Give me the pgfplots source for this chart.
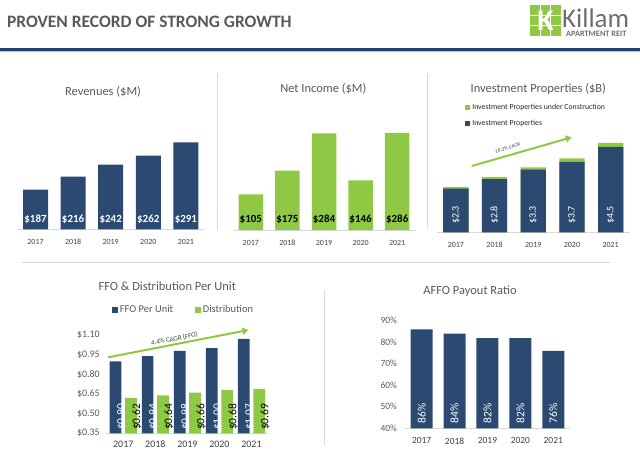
\documentclass[border=0pt]{standalone}
\usepackage{fontspec}
\setmainfont{Carlito}
\usepackage{pgfplots}
\pgfplotsset{compat=1.18}
\usetikzlibrary{arrows.meta}

\definecolor{Navy}{HTML}{2C4A71}
\definecolor{KGreen}{HTML}{8FC944}
\definecolor{TitleGray}{HTML}{595959}
\definecolor{LabelGray}{HTML}{404040}
\definecolor{RuleGray}{HTML}{D9D9D9}
\definecolor{HeadNavy}{HTML}{23406B}
\definecolor{HeadLight}{HTML}{B4C6DA}
\definecolor{LogoGray}{HTML}{6D6E71}

\newcommand{\fs}[1]{\fontsize{#1}{#1}\selectfont}

\pgfkeys{/pgf/number format/assume math mode=true}
\pgfplotsset{
  panel/.style={scale only axis, anchor=south west, ybar,
    axis x line=bottom, axis line style={-},
    x axis line style={draw=RuleGray, line width=0.8bp},
    xtick={0,...,4}, xticklabels={2017,2018,2019,2020,2021},
    major tick length=0pt, tick style={draw=none},
    xticklabel style={text=LabelGray}},
  toppanel/.style={panel, hide y axis, xmin=-0.5, xmax=4.5,
    xticklabel style={font=\fs{8}, yshift=-6.5bp}},
  % value labels, drawn at a fixed height inside the bars
  lblplot/.style={sharp plot, draw=none, mark=none, nodes near coords,
    point meta=explicit symbolic, every node near coord/.append style={anchor=center}},
  sqlegend/.style={legend image code/.code={\path[##1] (0bp,-#1) rectangle (2*#1,#1);}},
}

\begin{document}
\begin{tikzpicture}
\path[use as bounding box] (0,0) rectangle (640bp,-463bp);

% header
\node[anchor=west, font=\bfseries\fs{17.5}, text=TitleGray, inner sep=0]
  at (7bp,-22bp) {PROVEN RECORD OF STRONG GROWTH};
\fill[HeadNavy] (0,-48.3bp) rectangle (640bp,-50.7bp);
\fill[HeadLight] (0,-50.7bp) rectangle (640bp,-52bp);

% logo
\fill[KGreen] (530bp,-5bp) rectangle (561bp,-36bp);
\draw[white, line width=1.2bp] (540.3bp,-5bp) -- (540.3bp,-36bp)
  (550.7bp,-5bp) -- (550.7bp,-36bp) (530bp,-15.3bp) -- (561bp,-15.3bp)
  (530bp,-25.7bp) -- (561bp,-25.7bp);
\node[text=white, font=\bfseries\fs{30}, inner sep=0] at (545.5bp,-21bp) {K};
\node[anchor=base west, font=\fs{27}, text=LogoGray, inner sep=0]
  at (562bp,-27bp) {Killam};
\node[anchor=base west, font=\bfseries\fs{8.3}, text=LogoGray, inner sep=0]
  at (566bp,-36.5bp) {APARTMENT REIT};

% separators
\draw[RuleGray, line width=0.8bp] (217bp,-73bp) -- (217bp,-230bp)
  (427bp,-73bp) -- (427bp,-228bp) (22bp,-262bp) -- (610bp,-262bp)
  (324bp,-290bp) -- (324bp,-445bp);

% titles
\node[font=\fs{12.5}, text=TitleGray] at (103bp,-91.7bp) {Revenues (\$M)};
\node[font=\fs{12.5}, text=TitleGray] at (323.3bp,-89.3bp) {Net Income (\$M)};
\node[font=\fs{12.5}, text=TitleGray] at (538.3bp,-89.3bp) {Investment Properties (\$B)};
\node[font=\fs{12.5}, text=TitleGray] at (167.3bp,-286.7bp) {FFO \& Distribution Per Unit};
\node[font=\fs{12.5}, text=TitleGray] at (470bp,-290.7bp) {AFFO Payout Ratio};

% Revenues
\begin{axis}[toppanel, at={(16.7bp,-229.3bp)}, x=37.6bp, y=0.455bp, ymin=100, ymax=300]
\addplot[fill=Navy, draw=none, bar width=25bp]
  coordinates {(0,187) (1,216) (2,242) (3,262) (4,291)};
\addplot[lblplot, nodes near coords style={font=\bfseries\fs{11}, text=white}]
  coordinates {(0,122) [\$187] (1,122) [\$216] (2,122) [\$242] (3,122) [\$262] (4,122) [\$291]};
\end{axis}

% Net income
\begin{axis}[toppanel, at={(232.5bp,-230bp)}, x=36.6bp, y=0.34bp, ymin=0, ymax=300]
\addplot[fill=KGreen, draw=none, bar width=24.5bp]
  coordinates {(0,105) (1,175) (2,284) (3,146) (4,286)};
\addplot[lblplot, nodes near coords style={font=\bfseries\fs{11}, text=black}]
  coordinates {(0,31.5) [\$105] (1,31.5) [\$175] (2,31.5) [\$284] (3,31.5) [\$146] (4,31.5) [\$286]};
\end{axis}

% Investment properties: green = total incl. construction, navy drawn over it
\begin{axis}[toppanel, at={(436.5bp,-232.3bp)}, x=38.7bp, y=19bp,
  ymin=0, ymax=5, legend cell align=left, sqlegend=2.5bp,
  legend style={draw=none, fill=none, font=\fs{7.8}, text=black!85,
    at={(axis description cs:0.148,1.233)}, anchor=west, row sep=5bp, inner sep=0pt}]
\addplot[fill=KGreen, draw=none, bar width=25.3bp, bar shift=0pt]
  coordinates {(0,2.38) (1,2.91) (2,3.42) (3,3.89) (4,4.70)};
\addlegendentry{Investment Properties under Construction}
\addplot[fill=Navy, draw=none, bar width=25.3bp, bar shift=0pt]
  coordinates {(0,2.3) (1,2.8) (2,3.3) (3,3.7) (4,4.5)};
\addlegendentry{Investment Properties}
\addplot[lblplot, nodes near coords style={font=\fs{10}, text=white, rotate=90}]
  coordinates {(0,0.91) [\$2.3] (1,0.91) [\$2.8] (2,0.91) [\$3.3] (3,0.91) [\$3.7] (4,0.91) [\$4.5]};
\end{axis}
\draw[KGreen, line width=2bp, -{Triangle[length=6bp, width=7bp]}]
  (471.7bp,-166bp) -- node[sloped, above, pos=0.38, inner sep=4.5bp,
  font=\fs{5.2}, text=LabelGray] {18.3\% CAGR} (571.7bp,-137.3bp);

% FFO & distribution (bar shift 7.7bp = 0.24 category)
\begin{axis}[panel, at={(106.3bp,-433.3bp)}, x=32.05bp, y=131bp,
  xmin=-0.53, xmax=4.53, ymin=0.35, ymax=1.1,
  axis y line=left, y axis line style={draw=none},
  ytick={0.35,0.5,0.65,0.8,0.95,1.1},
  yticklabel={\$\pgfmathprintnumber[fixed,fixed zerofill,precision=2]{\tick}},
  yticklabel style={font=\fs{10}, text=TitleGray, xshift=-3bp},
  xticklabel style={font=\fs{10}, yshift=-4bp},
  legend columns=2, sqlegend=2.85bp,
  legend style={draw=none, fill=none, font=\fs{10.5}, text=TitleGray,
    at={(axis description cs:0.035,1.255)}, anchor=west, inner sep=0pt,
    /tikz/every even column/.append style={column sep=20bp}}]
\addplot[fill=Navy, draw=none, bar width=11.7bp, bar shift=-7.7bp]
  coordinates {(0,0.90) (1,0.94) (2,0.98) (3,1.00) (4,1.07)};
\addlegendentry{FFO Per Unit}
\addplot[fill=KGreen, draw=none, bar width=11.7bp, bar shift=7.7bp]
  coordinates {(0,0.62) (1,0.64) (2,0.66) (3,0.68) (4,0.69)};
\addlegendentry{Distribution}
\addplot[lblplot, forget plot, nodes near coords style={font=\fs{11.5}, text=white, rotate=90}]
  coordinates {(-0.24,0.476) [\$0.90] (0.76,0.476) [\$0.94] (1.76,0.476) [\$0.98] (2.76,0.476) [\$1.00] (3.76,0.476) [\$1.07]};
\addplot[lblplot, forget plot, nodes near coords style={font=\fs{11.5}, text=black, rotate=90}]
  coordinates {(0.24,0.476) [\$0.62] (1.24,0.476) [\$0.64] (2.24,0.476) [\$0.66] (3.24,0.476) [\$0.68] (4.24,0.476) [\$0.69]};
\end{axis}
\draw[KGreen, line width=2bp, -{Triangle[length=6bp, width=7bp]}]
  (108.3bp,-357.3bp) -- node[sloped, above, pos=0.48, inner sep=1.2bp,
  font=\fs{6.9}, text=LabelGray] {4.4\% CAGR (FFO)} (248.3bp,-330bp);

% AFFO payout ratio
\begin{axis}[panel, at={(404.9bp,-428.3bp)}, x=32.9bp, y=2.15bp,
  xmin=-0.51, xmax=4.51, ymin=40, ymax=90,
  axis y line=left, y axis line style={draw=none},
  ytick={40,50,...,90},
  yticklabel={\pgfmathprintnumber{\tick}\%},
  yticklabel style={font=\fs{9.5}, text=TitleGray, xshift=-4.4bp},
  xticklabel style={font=\fs{9.5}, yshift=-6bp}]
\addplot[fill=Navy, draw=none, bar width=22bp]
  coordinates {(0,86) (1,84) (2,82) (3,82) (4,76)};
\addplot[lblplot, nodes near coords style={font=\fs{11.5}, text=white, rotate=90}]
  coordinates {(0,47) [86\%] (1,47) [84\%] (2,47) [82\%] (3,47) [82\%] (4,47) [76\%]};
\end{axis}
\end{tikzpicture}
\end{document}
